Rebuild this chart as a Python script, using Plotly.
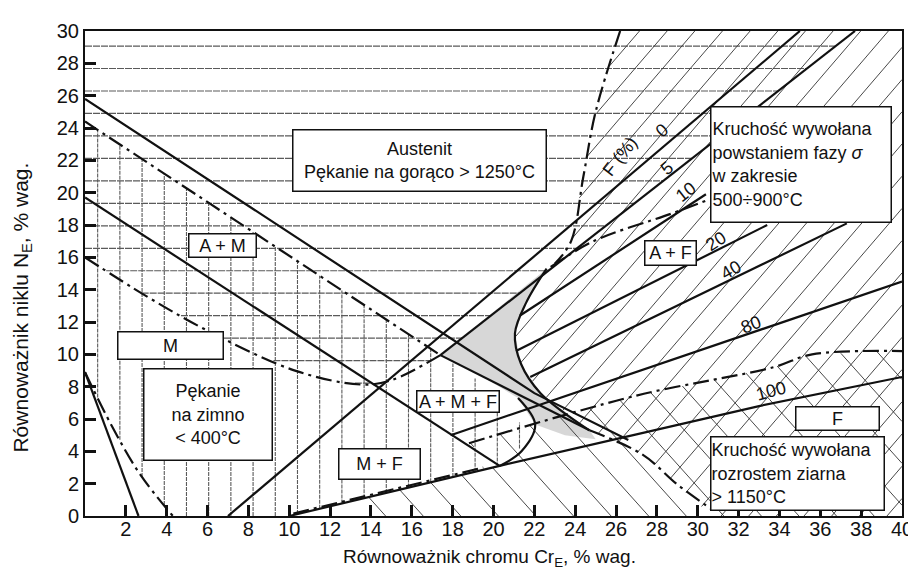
import numpy as np
import plotly.graph_objects as go

# ---------------- data: Cr_E (x) and Ni_E (y), % wag. ----------------
x_ticks = list(range(2, 41, 2))
y_ticks = list(range(0, 31, 2))

# solid boundary lines
lineA_x = [0.0, 22.0, 26.6]
lineA_y = [25.8, 7.6, 4.7]
lineAM_x = [0.0, 20.3]
lineAM_y = [19.7, 3.1]
lineMF_x = [0.0, 2.62]
lineMF_y = [8.9, 0.0]
fer0_x = [7.0, 35.0]
fer0_y = [0.0, 30.0]
fer5_x = [17.4, 37.7]
fer5_y = [9.95, 30.0]
fer10_x = [21.3, 30.4]
fer10_y = [12.4, 19.9]
fer20_x = [21.1, 33.4]
fer20_y = [10.2, 18.0]
fer40_x = [21.8, 37.3]
fer40_y = [8.6, 18.1]
fer80_x = [17.9, 40.0]
fer80_y = [5.0, 14.5]
fer100_x = [10.0, 20.3, 27.0, 33.0, 40.0]
fer100_y = [0.0, 3.1, 5.05, 6.8, 8.6]
lowAMF_x = [17.4, 24.7]
lowAMF_y = [9.95, 5.3]
curveU_x = [22.6, 21.6, 21.05, 21.35, 22.3, 24.7]
curveU_y = [15.3, 13.2, 11.3, 9.4, 7.6, 5.3]
curveL_x = [21.2, 22.04, 21.37, 20.3]
curveL_y = [7.3, 5.66, 4.0, 3.1]

# dash-dot boundary lines
hotA_x = [0.0, 17.4]
hotA_y = [24.4, 9.95]
martB_x = [0.0, 3.0, 6.05, 10.36, 13.56, 15.0, 17.4]
martB_y = [16.0, 13.6, 11.43, 8.96, 8.13, 8.4, 9.95]
cold_x = [0.0, 1.3, 2.7, 4.3]
cold_y = [8.9, 5.6, 2.57, 0.0]
sigmaV_x = [26.2, 25.0, 24.4, 23.8, 23.0]
sigmaV_y = [30.0, 25.0, 21.0, 17.0, 15.6]
sigmaH_x = [22.8, 24.9, 28.7, 30.6]
sigmaH_y = [15.4, 17.0, 18.7, 19.6]
grain_x = [18.8, 27.0, 33.7, 35.6, 40.0]
grain_y = [4.5, 7.45, 9.2, 10.0, 10.2]
tailA_x = [24.7, 27.3, 29.0, 30.7]
tailA_y = [5.3, 3.8, 1.95, 0.4]
mfDash_x = [10.2, 19.5]
mfDash_y = [0.15, 3.0]

# shaded (safe) area
safe_x = [17.4, 22.6, 21.6, 21.05, 21.35, 22.3, 24.7, 25.0, 23.5, 22.04, 21.2, 19.5]
safe_y = [9.95, 15.3, 13.2, 11.3, 9.4, 7.6, 5.3, 4.75, 5.0, 5.66, 7.3, 8.6]

# hatched regions (polygons)
hotReg_x = [0, 37.7, 17.4, 15.0, 13.56, 10.36, 6.05, 3.0, 0]
hotReg_y = [30, 30, 9.95, 8.4, 8.13, 8.96, 11.43, 13.6, 16.0]
coldReg_x = [0, 17.4, 19.0, 20.1, 21.2, 21.8, 21.0, 20.3, 10.0, 4.3, 2.7, 1.3, 0]
coldReg_y = [24.4, 9.95, 8.6, 7.5, 5.9, 4.9, 3.8, 3.1, 0.0, 0.0, 2.57, 5.6, 8.9]
sigmaReg_x = [26.2, 40, 40, 30.7, 29.0, 27.3, 24.7, 22.3, 21.35, 21.05, 21.6, 22.6, 23.8, 24.4, 25.0]
sigmaReg_y = [30, 30, 0, 0, 1.95, 3.8, 5.3, 7.6, 9.4, 11.3, 13.2, 15.3, 17.0, 21.0, 25.0]
grainReg_x = [13.5, 13.5, 20.3, 18.8, 27.0, 33.7, 35.6, 40.0, 40.0]
grainReg_y = [0.0, 1.05, 3.1, 4.5, 7.45, 9.2, 10.0, 10.2, 0.0]

# ---------------- helpers ----------------
def hatch(px, py, d, spacing, phase=0.0):
    """segments of parallel lines (direction d) clipped to polygon"""
    P = np.column_stack([px, py]).astype(float)
    d = np.array(d, float); d /= np.linalg.norm(d)
    n = np.array([-d[1], d[0]])
    proj = P @ n
    cs = np.arange(np.floor(proj.min() / spacing) * spacing + phase, proj.max(), spacing)
    xs, ys = [], []
    m = len(P)
    for c in cs:
        hits = []
        for i in range(m):
            a, b = P[i], P[(i + 1) % m]
            fa, fb = a @ n - c, b @ n - c
            if (fa < 0) != (fb < 0):
                t = fa / (fa - fb)
                q = a + t * (b - a)
                hits.append((q @ d, q))
        hits.sort(key=lambda h: h[0])
        for k in range(0, len(hits) - 1, 2):
            xs += [hits[k][1][0], hits[k + 1][1][0], None]
            ys += [hits[k][1][1], hits[k + 1][1][1], None]
    return xs, ys

fig = go.Figure()

# shaded area
fig.add_trace(go.Scatter(x=safe_x + [safe_x[0]], y=safe_y + [safe_y[0]], mode="lines",
                         fill="toself", fillcolor="rgba(175,175,175,0.5)",
                         line=dict(width=0), hoverinfo="skip"))

# hatching
SX = 20.7 / 16.17  # px aspect
hx, hy = hatch(hotReg_x, hotReg_y, (1, 0), 1.39, 29.07 % 1.39)
fig.add_trace(go.Scatter(x=hx, y=hy, mode="lines", line=dict(color="#5a5a5a", width=1.2, dash="7px,1px"), hoverinfo="skip"))
vx, vy = hatch(coldReg_x, coldReg_y, (0, 1), 1.087, 0.467)
fig.add_trace(go.Scatter(x=vx, y=vy, mode="lines", line=dict(color="#5a5a5a", width=1.1, dash="4px,1px"), hoverinfo="skip"))
sx, sy = hatch(sigmaReg_x, sigmaReg_y, (1, 1.15 * SX), 1.12)
fig.add_trace(go.Scatter(x=sx, y=sy, mode="lines", line=dict(color="#333", width=0.9), hoverinfo="skip"))
bx, by = hatch(grainReg_x, grainReg_y, (1, -1.1 * SX), 1.5)
fig.add_trace(go.Scatter(x=bx, y=by, mode="lines", line=dict(color="#333", width=0.9), hoverinfo="skip"))

DD = "16px,5px,3px,5px"
solid = [(lineA_x, lineA_y), (lineAM_x, lineAM_y), (lineMF_x, lineMF_y), (fer0_x, fer0_y),
         (fer5_x, fer5_y), (fer10_x, fer10_y), (fer20_x, fer20_y), (fer40_x, fer40_y),
         (fer80_x, fer80_y), (fer100_x, fer100_y), (lowAMF_x, lowAMF_y)]
for xx, yy in solid:
    fig.add_trace(go.Scatter(x=xx, y=yy, mode="lines", line=dict(color="#111", width=2.2), hoverinfo="skip"))
for xx, yy in [(curveU_x, curveU_y), (curveL_x, curveL_y)]:
    fig.add_trace(go.Scatter(x=xx, y=yy, mode="lines", line=dict(color="#111", width=2.2, shape="spline"), hoverinfo="skip"))
dashed = [(hotA_x, hotA_y), (martB_x, martB_y), (cold_x, cold_y), (sigmaV_x, sigmaV_y),
          (sigmaH_x, sigmaH_y), (grain_x, grain_y), (tailA_x, tailA_y), (mfDash_x, mfDash_y)]
for xx, yy in dashed:
    fig.add_trace(go.Scatter(x=xx, y=yy, mode="lines",
                             line=dict(color="#111", width=2.2, dash=DD, shape="spline"), hoverinfo="skip"))

FONT = "Liberation Sans, Arial, sans-serif"

def box(x, y, text, w, h, align="center", size=18):
    fig.add_annotation(x=x, y=y, xref="x", yref="y", text=text, showarrow=False,
                       font=dict(family=FONT, size=size, color="#111"), align=align,
                       bgcolor="white", bordercolor="#111", borderwidth=1.5, borderpad=0,
                       width=w, height=h, valign="middle")

def px2d(px, py):
    return (px - 77) / 20.87, (508.3 - py) / 16.19

for (cx, cy), txt, w, h, al in [
    ((419, 152), "Austenit<br>Pękanie na gorąco > 1250°C", 252, 60, "center"),
    ((217, 237.5), "A + M", 66, 22, "center"),
    ((164.5, 338), "M", 104, 26, "center"),
    ((203, 406.5), "Pękanie<br>na zimno<br>< 400°C", 127, 90, "center"),
    ((377.5, 456.5), "M + F", 80, 29, "center"),
    ((458, 393.5), "A + M + F", 81, 20, "center"),
    ((675, 244.5), "A + F", 50, 23, "center"),
    ((809, 156.5), "Kruchość wywołana<br>powstaniem fazy <i>σ</i><br>w zakresie<br>500÷900°C", 179, 114, "left"),
    ((845.5, 410.3), "F", 82, 22, "center"),
    ((805.5, 466), "Kruchość wywołana<br>rozrostem ziarna<br>> 1150°C", 172, 72, "left"),
]:
    dx, dy = px2d(cx, cy)
    box(dx, dy, txt, w, h, al)

for (cx, cy), txt, ang in [
    ((624, 148), "F (%)", -52), ((667, 122), "0", -40), ((672, 160), "5", -40),
    ((691, 184), "10", -38), ((722, 233), "20", -33), ((737, 262), "40", -30),
    ((757, 317), "80", -22), ((778, 383), "100", -15),
]:
    dx, dy = px2d(cx, cy)
    fig.add_annotation(x=dx, y=dy, text=txt, showarrow=False, textangle=ang,
                       font=dict(family=FONT, size=18, color="#111"))

fig.add_annotation(x=0.495, y=-0.086, xref="paper", yref="paper", yanchor="middle",
                   text="Równoważnik chromu Cr<sub>E</sub>, % wag.", showarrow=False,
                   font=dict(family=FONT, size=19, color="#111"))
fig.add_annotation(x=-0.077, y=0.43, xref="paper", yref="paper", xanchor="center",
                   text="Równoważnik niklu N<sub>E</sub>, % wag.", showarrow=False, textangle=-90,
                   font=dict(family=FONT, size=21, color="#111"))

fig.update_layout(
    width=916, height=568, margin=dict(l=77, r=11, t=23, b=60),
    paper_bgcolor="white", plot_bgcolor="white", showlegend=False,
    font=dict(family=FONT, size=20, color="#111"),
)
fig.update_xaxes(range=[0, 40], tickvals=x_ticks, ticks="inside", ticklen=11, tickwidth=2.5,
                 tickcolor="#111", showline=True, linecolor="#111", linewidth=2, mirror=True,
                 showgrid=False, zeroline=False, tickfont=dict(size=20), ticklabelstandoff=-6)
fig.update_yaxes(range=[0, 30], tickvals=y_ticks, ticks="inside", ticklen=11, tickwidth=2.5,
                 tickcolor="#111", showline=True, linecolor="#111", linewidth=2, mirror=True,
                 showgrid=False, zeroline=False, tickfont=dict(size=20))

fig.write_html("out.html")
